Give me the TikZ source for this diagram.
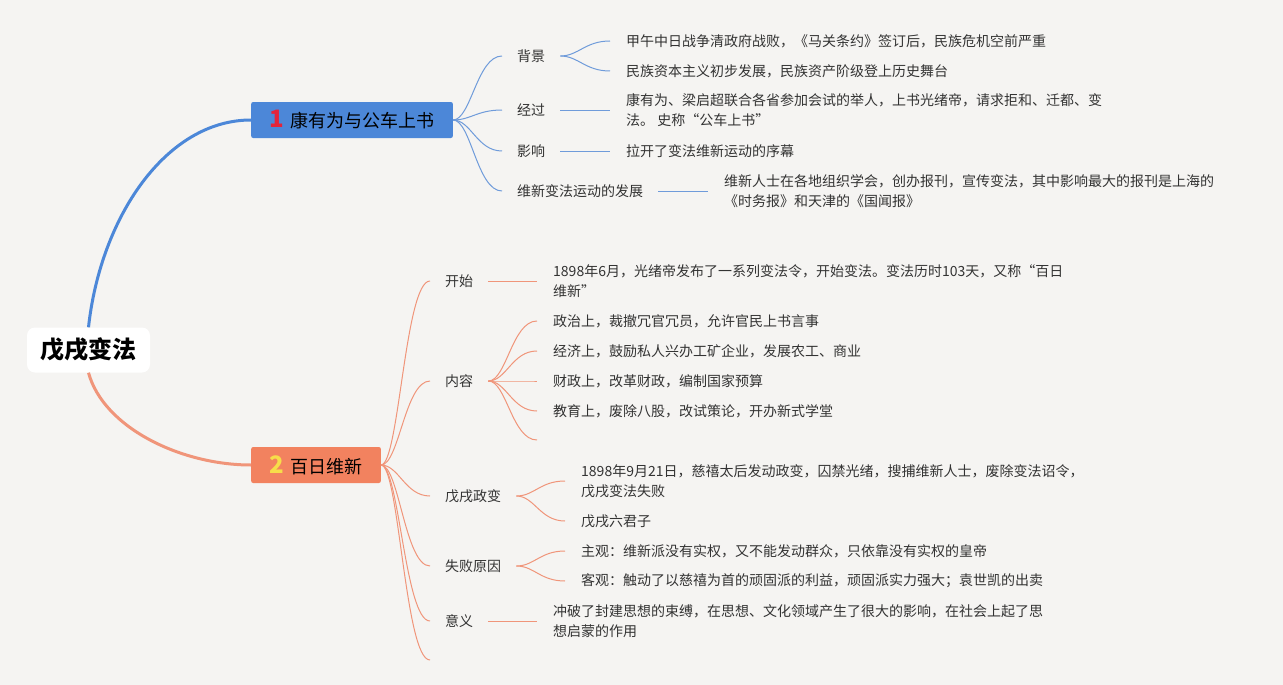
\documentclass[tikz,border=0pt]{standalone}
\usepackage{fontspec}
\setmainfont{Noto Sans CJK SC}
\usepackage{tikz}
\usetikzlibrary{positioning}
\usepackage{xcolor}
\definecolor{paper}{HTML}{F5F4F2}
\definecolor{ink}{HTML}{333333}
\definecolor{topicblue}{HTML}{4C87D8}
\definecolor{topicorange}{HTML}{F2825F}
\definecolor{blueline}{HTML}{6F9BDA}
\definecolor{orangeline}{HTML}{F0957A}
\definecolor{numred}{HTML}{E3243B}
\definecolor{numyellow}{HTML}{F7DD4A}

\begin{document}
\begin{tikzpicture}[
  x=1pt, y=-1pt,
  every node/.style={text=ink, font=\fontsize{14}{20}\selectfont},
  root/.style={fill=white, rounded corners=8pt, minimum width=123pt, minimum height=45pt, font=\fontsize{24}{28}\selectfont\bfseries, text=black},
  topic/.style={rounded corners=2pt, minimum height=36pt, inner xsep=18pt, anchor=west, font=\fontsize{18}{22}\selectfont, text=black},
  sub/.style={inner xsep=15pt, inner ysep=1pt, anchor=west},
  leaf/.style={inner xsep=16pt, inner ysep=1pt, anchor=west, align=left},
  curve/.style={to path={.. controls +(18,0) and +(-25,0) .. (\tikztotarget)}},
  bthin/.style={draw=blueline, line width=1pt},
  othin/.style={draw=orangeline, line width=1pt}
]
  % Paper
  \fill[paper] (0,0) rectangle (1283,685);

  % Root and main topics
  \node[root] (root) at (88.5,350) {戊戌变法};
  \node[topic, fill=topicblue] (t1) at (251,120) {{\fontsize{24}{24}\selectfont\bfseries\color{numred}1}\hspace{7pt}康有为与公车上书};
  \node[topic, fill=topicorange] (t2) at (251,465) {{\fontsize{24}{24}\selectfont\bfseries\color{numyellow}2}\hspace{7pt}百日维新};

  \draw[draw=topicblue, line width=3pt] (root.north) .. controls +(12,-110) and +(-85,0) .. (t1.west);
  \draw[draw=orangeline, line width=3pt] (root.south) .. controls +(15,55) and +(-70,0) .. (t2.west);

  % Topic 1
  \node[sub] (bj) at (502,56) {背景};
  \node[sub] (jg) at (502,110) {经过};
  \node[sub] (yx) at (502,151) {影响};
  \node[sub] (fz) at (502,191) {维新变法运动的发展};

  \node[leaf] (bj1) at (610,41) {甲午中日战争清政府战败，《马关条约》签订后，民族危机空前严重};
  \node[leaf] (bj2) at (610,71) {民族资本主义初步发展，民族资产阶级登上历史舞台};
  \node[leaf] (jg1) at (610,110) {康有为、梁启超联合各省参加会试的举人，上书光绪帝，请求拒和、迁都、变\\法。 史称“公车上书”};
  \node[leaf] (yx1) at (610,151) {拉开了变法维新运动的序幕};
  \node[leaf] (fz1) at (708,191) {维新人士在各地组织学会，创办报刊，宣传变法，其中影响最大的报刊是上海的\\《时务报》和天津的《国闻报》};

  \foreach \s in {bj, jg, yx, fz} {
    \draw[bthin, curve] (t1.east) to (\s.west);
  }
  \draw[bthin, curve] (bj.east) to (bj1.west);
  \draw[bthin, curve] (bj.east) to (bj2.west);
  \draw[bthin] (jg.east) -- (jg1.west);
  \draw[bthin] (yx.east) -- (yx1.west);
  \draw[bthin] (fz.east) -- (fz1.west);

  % Topic 2
  \node[sub] (ks) at (430,281) {开始};
  \node[sub] (nr) at (430,381) {内容};
  \node[sub] (zb) at (430,496) {戊戌政变};
  \node[sub] (sb) at (430,566) {失败原因};
  \node[sub] (yy) at (430,621) {意义};
  \coordinate (t2end) at (430,660);

  \node[leaf] (ks1) at (537,281) {1898年6月，光绪帝发布了一系列变法令，开始变法。变法历时103天，又称“百日\\维新”};
  \node[leaf] (nr1) at (537,321) {政治上，裁撤冗官冗员，允许官民上书言事};
  \node[leaf] (nr2) at (537,351) {经济上，鼓励私人兴办工矿企业，发展农工、商业};
  \node[leaf] (nr3) at (537,381) {财政上，改革财政，编制国家预算};
  \node[leaf] (nr4) at (537,411) {教育上，废除八股，改试策论，开办新式学堂};
  \coordinate (nrend) at (537,440);
  \node[leaf] (zb1) at (565,481) {1898年9月21日，慈禧太后发动政变，囚禁光绪，搜捕维新人士，废除变法诏令，\\戊戌变法失败};
  \node[leaf] (zb2) at (565,521) {戊戌六君子};
  \node[leaf] (sb1) at (565,551) {主观：维新派没有实权，又不能发动群众，只依靠没有实权的皇帝};
  \node[leaf] (sb2) at (565,581) {客观：触动了以慈禧为首的顽固派的利益，顽固派实力强大；袁世凯的出卖};
  \node[leaf] (yy1) at (537,621) {冲破了封建思想的束缚，在思想、文化领域产生了很大的影响，在社会上起了思\\想启蒙的作用};

  \foreach \s in {ks, nr, zb, sb, yy} {
    \draw[othin, curve] (t2.east) to (\s.west);
  }
  \draw[othin, curve] (t2.east) to (t2end);
  \draw[othin] (ks.east) -- (ks1.west);
  \foreach \l in {nr1, nr2, nr3, nr4} {
    \draw[othin, curve] (nr.east) to (\l.west);
  }
  \draw[othin, curve] (nr.east) to (nrend);
  \draw[othin, curve] (zb.east) to (zb1.west);
  \draw[othin, curve] (zb.east) to (zb2.west);
  \draw[othin, curve] (sb.east) to (sb1.west);
  \draw[othin, curve] (sb.east) to (sb2.west);
  \draw[othin] (yy.east) -- (yy1.west);
\end{tikzpicture}
\end{document}
